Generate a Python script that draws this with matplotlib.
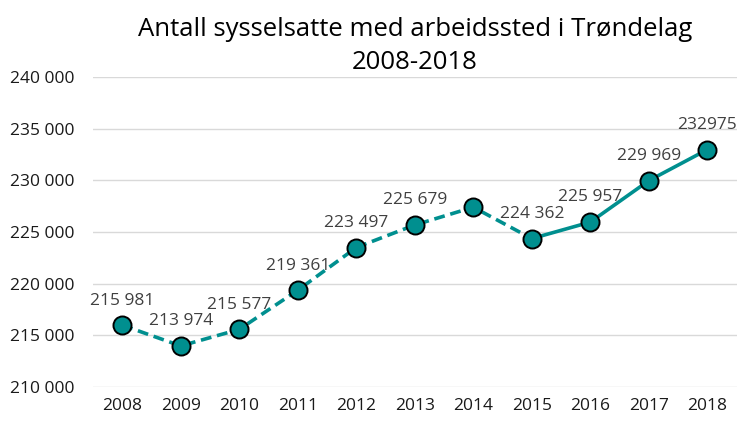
import matplotlib.pyplot as plt

plt.rcParams['font.family'] = ['Open Sans', 'DejaVu Sans']

years = ['2008', '2009', '2010', '2011', '2012', '2013', '2014', '2015', '2016', '2017', '2018']
employed = [215981, 213974, 215577, 219361, 223497, 225679, 227400, 224362, 225957, 229969, 232975]
point_labels = ['215 981', '213 974', '215 577', '219 361', '223 497', '225 679', '',
                '224 362', '225 957', '229 969', '232975']
yticks = [210000, 215000, 220000, 225000, 230000, 235000, 240000]

teal = '#008F8F'
split = 7  # dashed up to 2015, solid after

fig = plt.figure(figsize=(7.44, 4.22), dpi=100)
left, width = 0.125, 0.865
ax = fig.add_axes([left, 0.083, width, 0.7345])

x = list(range(len(years)))
ax.plot(x[:split + 1], employed[:split + 1], color=teal, lw=2.6, ls=(0, (3, 1.6)), zorder=2)
ax.plot(x[split:], employed[split:], color=teal, lw=2.6, zorder=2)
ax.plot(x, employed, ls='none', marker='o', ms=13, mfc=teal, mec='black', mew=1.4, zorder=3)

for xi, v, lab in zip(x, employed, point_labels):
    if lab:
        ax.annotate(lab, (xi, v), xytext=(0, 12), textcoords='offset points',
                    ha='center', va='bottom', fontsize=12.5, color='#404040')

ax.set_xlim(-0.5, len(years) - 0.5)
ax.set_ylim(210000, 240000)
ax.set_xticks(x)
ax.set_xticklabels(years)
ax.set_yticks(yticks)
ax.set_yticklabels([f'{t:,}'.replace(',', ' ') for t in yticks])
ax.tick_params(axis='both', length=0, labelsize=12.5, colors='#1a1a1a')
ax.tick_params(axis='y', pad=13)
ax.tick_params(axis='x', pad=8)
ax.grid(axis='y', color='#d9d9d9', lw=1)
ax.set_axisbelow(True)
for s in ax.spines.values():
    s.set_visible(False)

fig.text(left + width / 2, 0.96, 'Antall sysselsatte med arbeidssted i Trøndelag\n2008-2018',
         ha='center', va='top', fontsize=18.5, color='black', linespacing=1.45)

fig.savefig('out.png', dpi=100)
